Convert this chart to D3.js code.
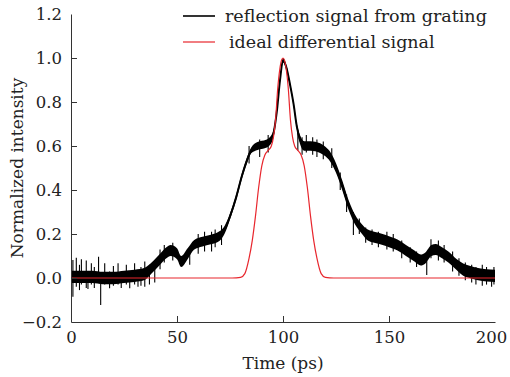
<!DOCTYPE html>
<html>
<head>
<meta charset="utf-8">
<script src="https://cdn.jsdelivr.net/npm/d3@7"></script>
<style>
  body { margin: 0; background: #fff; }
  text { font-family: "DejaVu Serif", serif; fill: #222; }
</style>
</head>
<body>
<div id="chart"></div>
<script>
// reflection signal: centre of the noisy trace and its noise half-width
const timeBlack = [0, 5, 10, 15, 20, 25, 30, 35, 38, 42, 45, 47, 50, 52, 55, 58, 62, 66, 70, 72.5,
  75, 78, 80.5, 83, 85, 88, 92, 95, 97, 98.6, 100, 101.5, 103.3, 105, 106.5, 108, 110, 113, 117.5,
  120, 122, 125, 128, 131, 134, 137, 140, 143, 147, 150, 154, 158, 162, 165, 167, 170, 172, 175,
  178, 182, 185, 188, 192, 196, 200];
const valueBlack = [0.005, 0.005, 0.005, 0.0, 0.0, 0.005, 0.01, 0.02, 0.045, 0.085, 0.115, 0.125,
  0.11, 0.075, 0.11, 0.15, 0.165, 0.175, 0.19, 0.22, 0.28, 0.37, 0.46, 0.535, 0.58, 0.6, 0.61, 0.64,
  0.75, 0.9, 0.99, 0.96, 0.88, 0.79, 0.69, 0.63, 0.6, 0.6, 0.59, 0.575, 0.555, 0.5, 0.42, 0.33,
  0.265, 0.225, 0.195, 0.185, 0.175, 0.165, 0.15, 0.125, 0.1, 0.082, 0.09, 0.125, 0.13, 0.115,
  0.095, 0.06, 0.038, 0.028, 0.018, 0.012, 0.01];
const noiseBlack = [0.028, 0.028, 0.028, 0.028, 0.028, 0.028, 0.028, 0.028, 0.025, 0.025, 0.025, 0.025,
  0.025, 0.025, 0.025, 0.022, 0.022, 0.022, 0.022, 0.018, 0.013, 0.013, 0.013, 0.013, 0.013, 0.018, 0.018,
  0.018, 0.01, 0.01, 0.01, 0.01, 0.01, 0.01, 0.013, 0.02, 0.022, 0.022, 0.022, 0.022, 0.022,
  0.022, 0.022, 0.022, 0.022, 0.022, 0.025, 0.025, 0.025, 0.025, 0.025, 0.025, 0.025, 0.025, 0.025, 0.025,
  0.025, 0.025, 0.025, 0.025, 0.028, 0.028, 0.028, 0.028, 0.028];
// spikes sticking out of the trace: [time, low, high]
const spikes = [[0.9, -0.085, 0.082], [2.5, -0.04, 0.092], [4, -0.055, 0.06], [4.9, -0.03, 0.085],
  [7.2, -0.045, 0.08], [8, -0.05, 0.03], [9.6, -0.03, 0.067], [11, -0.045, 0.05], [13, -0.02, 0.097],
  [14, -0.123, 0.02], [15.9, -0.03, 0.067], [18.2, -0.047, 0.03], [20, -0.035, 0.055],
  [22.2, -0.03, 0.067], [23.7, -0.045, 0.03], [26.1, -0.03, 0.06], [27.7, -0.047, 0.03],
  [30, -0.03, 0.067], [31.6, -0.04, 0.03], [33, -0.035, 0.05], [34.8, -0.04, 0.075], [37, -0.03, 0.06],
  [39.5, -0.02, 0.07], [42, 0.04, 0.13], [44, 0.07, 0.15], [48, 0.08, 0.16], [56, 0.06, 0.14],
  [60, 0.11, 0.2], [63, 0.12, 0.21], [66.3, 0.12, 0.21], [68, 0.14, 0.22], [71, 0.15, 0.24],
  [84, 0.52, 0.6], [89, 0.55, 0.63], [93, 0.57, 0.65], [107, 0.58, 0.67], [109, 0.56, 0.64],
  [111, 0.57, 0.65], [114, 0.56, 0.64], [116, 0.55, 0.63], [119, 0.54, 0.62], [123, 0.5, 0.59],
  [127, 0.4, 0.48], [130, 0.3, 0.38], [133.2, 0.195, 0.3], [136, 0.2, 0.27], [139, 0.16, 0.23],
  [142, 0.15, 0.22], [145, 0.14, 0.21], [149, 0.13, 0.21], [152, 0.12, 0.2], [156, 0.09, 0.17],
  [160, 0.07, 0.14], [163, 0.05, 0.12], [167.8, 0.014, 0.1], [169.8, 0.09, 0.176], [173.3, 0.08, 0.17],
  [176, 0.07, 0.15], [180, 0.03, 0.12], [183, 0.01, 0.09], [186, -0.01, 0.07], [189, -0.02, 0.06],
  [191, -0.03, 0.05], [194, -0.035, 0.06], [196, -0.03, 0.05], [198.4, -0.04, 0.03], [199.5, -0.03, 0.05]];

// ideal differential signal
const timeIdeal = [0, 76, 80, 82, 84, 85.5, 87, 88.5, 90, 91.5, 93, 94.5, 95.5, 96.5, 97.5, 98.5,
  99.3, 100, 100.7, 101.5, 102.5, 103.5, 104.5, 105.5, 107, 108.5, 110, 111.5, 113, 114.5, 116,
  118, 120, 124, 200];
const valueIdeal = [0, 0, 0.003, 0.02, 0.09, 0.17, 0.28, 0.41, 0.51, 0.56, 0.58, 0.6, 0.64, 0.72,
  0.86, 0.95, 0.99, 1.0, 0.99, 0.95, 0.86, 0.72, 0.64, 0.6, 0.58, 0.56, 0.51, 0.41, 0.28, 0.17,
  0.09, 0.02, 0.003, 0, 0];

const xTicks = [0, 50, 100, 150, 200];
const yTicks = [-0.2, 0.0, 0.2, 0.4, 0.6, 0.8, 1.0, 1.2];
const legendLabels = ["reflection signal from grating", "ideal differential signal"];

const W = 510, H = 377;
const margin = {top: 14, right: 15, bottom: 55, left: 71};

const svg = d3.select("#chart").append("svg")
  .attr("width", W)
  .attr("height", H);

const x = d3.scaleLinear().domain([0, 200]).range([margin.left, W - margin.right]);
const y = d3.scaleLinear().domain([-0.2, 1.2]).range([H - margin.bottom, margin.top]);

const black = timeBlack.map((t, i) => ({t, v: valueBlack[i], n: noiseBlack[i]}));
const ideal = timeIdeal.map((t, i) => ({t, v: valueIdeal[i]}));

// noisy trace as a filled band plus its centre line
svg.append("path")
  .datum(black)
  .attr("fill", "#000")
  .attr("d", d3.area().curve(d3.curveMonotoneX)
    .x(d => x(d.t)).y0(d => y(d.v - d.n)).y1(d => y(d.v + d.n)));

svg.append("path")
  .datum(black)
  .attr("fill", "none")
  .attr("stroke", "#000")
  .attr("stroke-width", 2)
  .attr("d", d3.line().curve(d3.curveMonotoneX).x(d => x(d.t)).y(d => y(d.v)));

svg.append("g").selectAll("line")
  .data(spikes)
  .join("line")
  .attr("x1", d => x(d[0])).attr("x2", d => x(d[0]))
  .attr("y1", d => y(d[1])).attr("y2", d => y(d[2]))
  .attr("stroke", "#000")
  .attr("stroke-width", 1.1);

svg.append("path")
  .datum(ideal)
  .attr("fill", "none")
  .attr("stroke", "#e8262d")
  .attr("stroke-width", 1.2)
  .attr("d", d3.line().curve(d3.curveMonotoneX).x(d => x(d.t)).y(d => y(d.v)));

// axes, ticks pointing inward
const xAxis = svg.append("g")
  .attr("transform", `translate(0,${H - margin.bottom})`)
  .call(d3.axisBottom(x).tickValues(xTicks).tickSizeInner(-6).tickSizeOuter(0).tickPadding(9)
    .tickFormat(d3.format("d")));

const yAxis = svg.append("g")
  .attr("transform", `translate(${margin.left},0)`)
  .call(d3.axisLeft(y).tickValues(yTicks).tickSizeInner(-6).tickSizeOuter(0).tickPadding(9)
    .tickFormat(d => d < 0 ? "\u2212" + d3.format(".1f")(-d) : d3.format(".1f")(d)));

[xAxis, yAxis].forEach(a => {
  a.select(".domain").attr("stroke", "#333");
  a.selectAll(".tick line").attr("stroke", "#333");
  a.selectAll(".tick text").attr("font-size", 16.5).attr("font-family", "DejaVu Serif").attr("fill", "#222");
});
xAxis.selectAll(".tick line").filter(d => d === 0 || d === 200).remove();
yAxis.selectAll(".tick line").filter(d => d === -0.2 || d === 1.2).remove();
// keep the last label inside the window
xAxis.selectAll(".tick text").filter(d => d === 200).attr("dx", -4);

svg.append("text")
  .attr("x", (margin.left + W - margin.right) / 2)
  .attr("y", 369)
  .attr("text-anchor", "middle")
  .attr("font-size", 17)
  .text("Time (ps)");

svg.append("text")
  .attr("transform", `translate(23,${(margin.top + H - margin.bottom) / 2}) rotate(-90)`)
  .attr("text-anchor", "middle")
  .attr("font-size", 17)
  .text("Normalized intensity");

// legend
const legendColors = ["#000", "#e8262d"];
const legend = svg.append("g").selectAll("g")
  .data(legendLabels)
  .join("g")
  .attr("transform", (d, i) => `translate(183,${16 + i * 26})`);

legend.append("line")
  .attr("x1", 0).attr("x2", 32)
  .attr("stroke", (d, i) => legendColors[i])
  .attr("stroke-width", (d, i) => i === 0 ? 1.6 : 1.2);

legend.append("text")
  .attr("x", (d, i) => i === 0 ? 42 : 46)
  .attr("y", 6)
  .attr("font-size", 17.5)
  .text(d => d);
</script>
</body>
</html>
